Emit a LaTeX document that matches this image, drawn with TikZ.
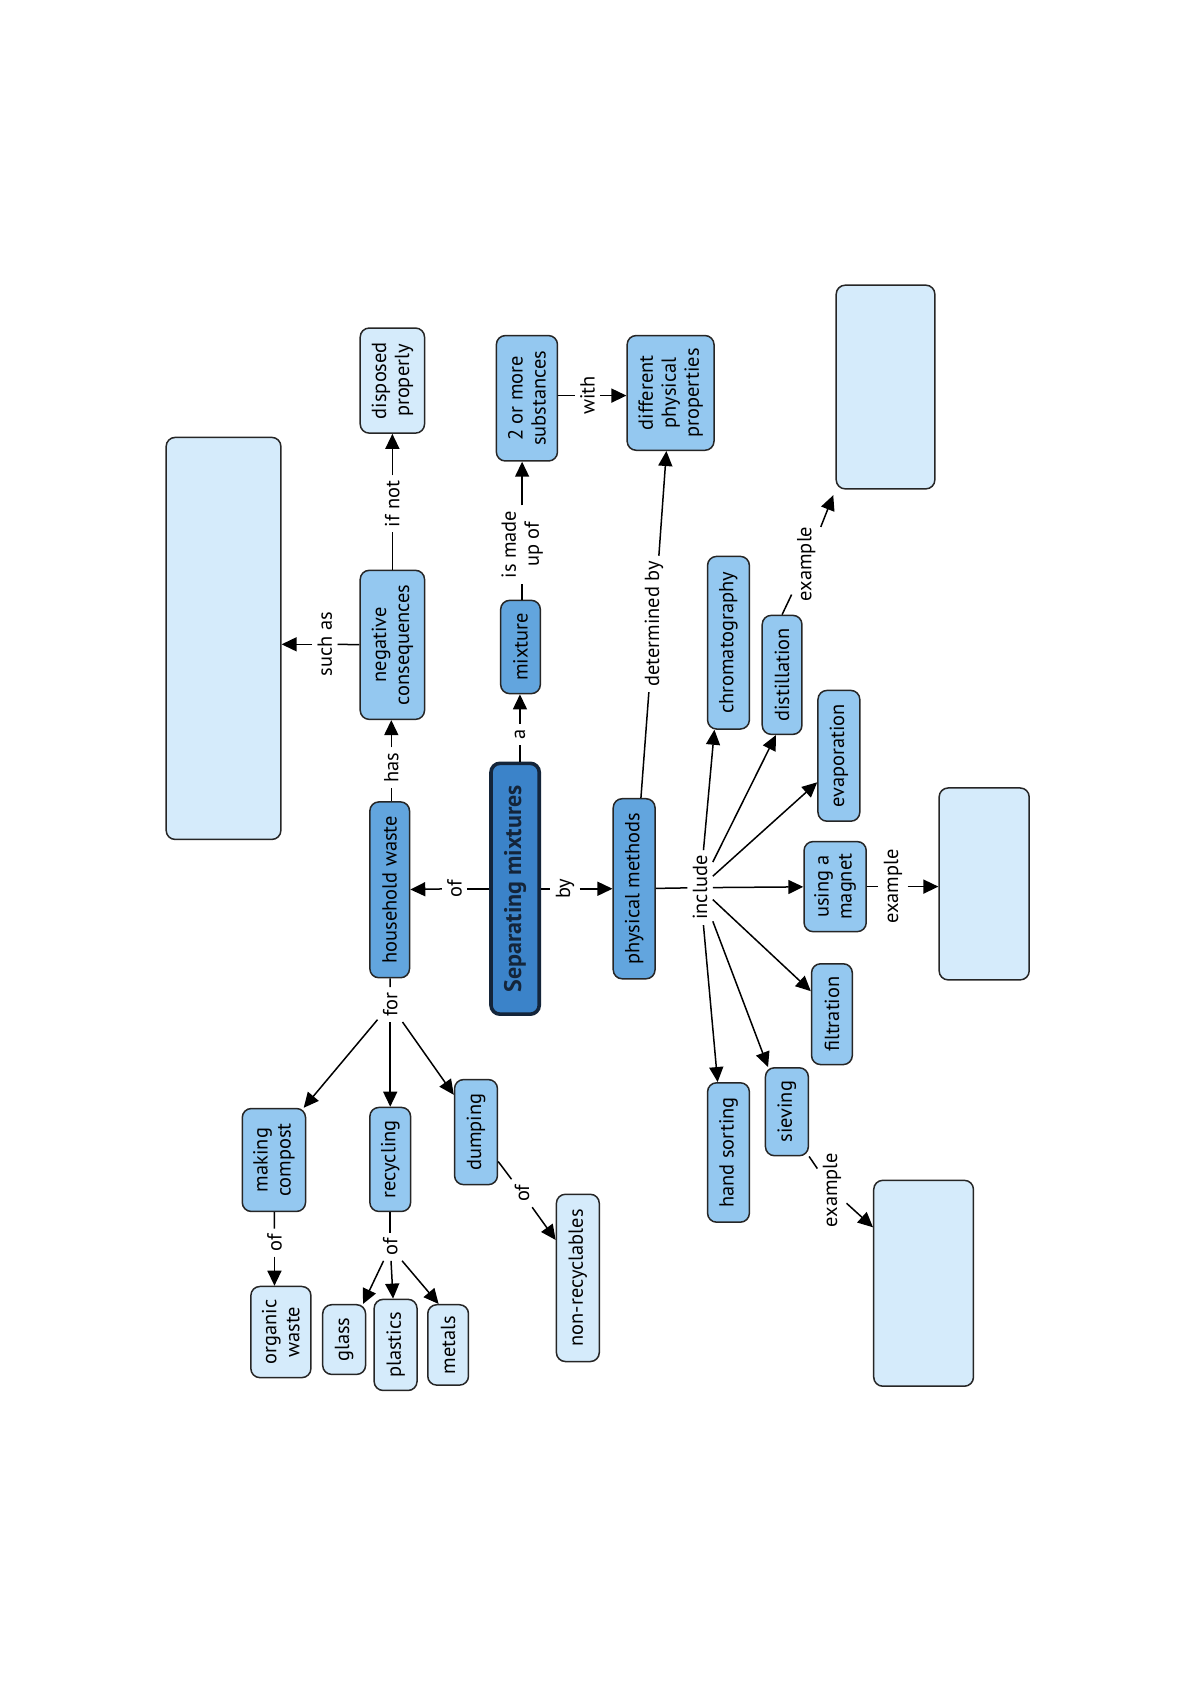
\documentclass[tikz,border=0pt]{standalone}
\usepackage{fontspec}
\setmainfont{PT Sans}
\usetikzlibrary{arrows.meta,calc}
\definecolor{sepblue}{HTML}{3B83C9}
\definecolor{midblue}{HTML}{62A5DE}
\definecolor{ltblue}{HTML}{94C8F0}
\definecolor{paleblue}{HTML}{D5EBFB}
\definecolor{navy}{HTML}{14253A}
\def\unitpx{0.536pt}
\newcommand\nodefont{\fontsize{10.2}{11.5}\selectfont}
\newcommand\sepfont{\fontsize{12}{13}\selectfont\bfseries}
\tikzset{
  cbox/.style={rotate=90, draw=black!85, line width=0.75pt, rounded corners=4.5pt,
    inner sep=1pt, align=center, font=\nodefont, text=black},
  c1/.style={cbox, fill=sepblue, draw=navy, line width=1.8pt, font=\sepfont, text=navy},
  c2/.style={cbox, fill=midblue},
  c3/.style={cbox, fill=ltblue},
  c4/.style={cbox, fill=paleblue},
  lbl/.style={rotate=90, inner sep=2.5pt, font=\nodefont, align=center},
  sz/.style 2 args={minimum width=#2*\unitpx, minimum height=#1*\unitpx},
  ln/.style={line width=0.75pt},
  arr/.style={line width=0.75pt, -{Triangle[length=7.5pt,width=7pt]}},
}
\begin{document}
\begin{tikzpicture}[x=0.536pt, y=-0.536pt]
\useasboundingbox (0,0) rectangle (1108,1568);
\fill[white] (0,0) rectangle (1108,1568);
% nodes
\node[c4, sz={107}{375}] (A) at (208.5,595.5) {};
\node[c4, sz={60}{98}] (dp) at (366,355) {disposed\\properly};
\node[c3, sz={60}{139}] (nc) at (366,601.5) {negative\\consequences};
\node[c2, sz={37}{164}] (hw) at (363.5,830) {household waste};
\node[c1, sz={45}{234}] (sep) at (480.5,829) {Separating mixtures};
\node[c2, sz={37}{87}] (mix) at (485.5,603.5) {mixture};
\node[c3, sz={57}{117}] (tom) at (491.5,371.5) {2 or more\\substances};
\node[c3, sz={81}{107}] (dpp) at (625.5,366.5) {different\\physical\\properties};
\node[c2, sz={39}{168}] (pm) at (591.5,829) {physical methods};
\node[c3, sz={39}{161}] (chrom) at (679.5,599.5) {chromatography};
\node[c3, sz={37}{111}] (dist) at (729.5,629.5) {distillation};
\node[c3, sz={39}{122}] (evap) at (782.5,705) {evaporation};
\node[c3, sz={58}{84}] (mag) at (779,827) {using a\\magnet};
\node[c3, sz={38}{94}] (filt) at (776,946) {filtration};
\node[c3, sz={40}{82}] (siev) at (734,1037) {sieving};
\node[c3, sz={39}{130}] (hand) at (679.5,1075) {hand sorting};
\node[c4, sz={92}{190}] (B) at (826,361) {};
\node[c4, sz={84}{179}] (C) at (918,824.5) {};
\node[c4, sz={93}{192}] (D) at (861.5,1197) {};
\node[c3, sz={59}{96}] (mc) at (255.5,1082) {making\\compost};
\node[c3, sz={38}{97}] (rec) at (364,1081.5) {recycling};
\node[c3, sz={40}{98}] (dump) at (444,1056) {dumping};
\node[c4, sz={56}{85}] (ow) at (262,1242.5) {organic\\waste};
\node[c4, sz={40}{65}] (glass) at (321,1249.5) {glass};
\node[c4, sz={40}{85}] (plas) at (369,1254.5) {plastics};
\node[c4, sz={38}{75}] (met) at (418,1254.5) {metals};
\node[c4, sz={40}{156}] (nr) at (539,1192) {non-recyclables};
% labels
\node[lbl] (lof1) at (424,829) {of};
\node[lbl] (la) at (485,685) {a};
\node[lbl] (lby) at (527,829) {by};
\node[lbl] (lhas) at (365,716) {has};
\node[lbl] (lsuch) at (303,601) {such as};
\node[lbl] (lifnot) at (366,470) {if not};
\node[lbl] (limu) at (487,508) {is made\\up of};
\node[lbl] (lwith) at (548,369) {with};
\node[lbl] (ldet) at (610,582) {determined by};
\node[lbl] (linc) at (653,828) {include};
\node[lbl] (lex1) at (752,526) {example};
\node[lbl] (lex2) at (833,827) {example};
\node[lbl] (lex3) at (776,1110) {example};
\node[lbl] (lfor) at (364,937) {for};
\node[lbl] (lof2) at (256,1159) {of};
\node[lbl] (lof3) at (364,1163) {of};
\node[lbl] (lof4) at (487,1113) {of};
% connectors
\draw[ln] (sep) -- (lof1); \draw[arr] (lof1) -- (hw);
\draw[ln] (la |- sep.east) -- (la); \draw[arr] (la) -- (la |- mix.west);
\draw[ln] (sep) -- (lby); \draw[arr] (lby) -- (pm);
\draw[ln] (lhas |- hw.east) -- (lhas); \draw[arr] (lhas) -- (lhas |- nc.west);
\draw[ln] (nc) -- (lsuch); \draw[arr] (lsuch) -- (lsuch -| A.south);
\draw[ln] (nc) -- (lifnot); \draw[arr] (lifnot) -- (dp);
\draw[ln] (limu |- mix.east) -- (limu); \draw[arr] (limu) -- (limu |- tom.west);
\draw[ln] (lwith -| tom.south) -- (lwith); \draw[arr] (lwith) -- (lwith -| dpp.north);
\draw[ln] (pm) -- (ldet); \draw[arr] (ldet) -- (dpp);
\draw[ln] (pm) -- (linc);
\draw[arr] (linc) -- ($(chrom.west)!0.65!(chrom.north west)$);
\draw[arr] (linc) -- ($(dist.west)!0.3!(dist.north west)$);
\draw[arr] (linc) -- ($(evap.north)!0.4!(evap.north west)$);
\draw[arr] (linc) -- (mag);
\draw[arr] (linc) -- ($(filt.north)!0.45!(filt.north east)$);
\draw[arr] (linc) -- ($(siev.east)!0.85!(siev.north east)$);
\draw[arr] (linc) -- ($(hand.east)!0.5!(hand.north east)$);
\draw[ln] (dist.east) -- (lex1); \draw[arr, shorten >=3pt] (lex1) -- (B.north west);
\draw[ln] (mag) -- (lex2); \draw[arr] (lex2) -- (lex2 -| C.north);
\draw[ln] (siev.south west) -- (lex3); \draw[arr] (lex3) -- ($(D.north)!0.54!(D.north east)$);
\draw[ln] (hw) -- (lfor);
\draw[arr] (lfor) -- ($(mc.east)!0.92!(mc.south east)$);
\draw[arr] (lfor) -- (rec);
\draw[arr] (lfor) -- ($(dump.north)!0.7!(dump.north east)$);
\draw[ln] (mc) -- (lof2); \draw[arr] (lof2) -- (lof2 |- ow.east);
\draw[ln] (rec) -- (lof3);
\draw[arr] (lof3) -- ($(glass.east)!0.85!(glass.south east)$);
\draw[arr] (lof3) -- (plas);
\draw[arr] (lof3) -- ($(met.east)!0.45!(met.north east)$);
\draw[ln] (dump) -- (lof4); \draw[arr] (lof4) -- ($(nr.north)!0.45!(nr.north east)$);
\end{tikzpicture}
\end{document}
